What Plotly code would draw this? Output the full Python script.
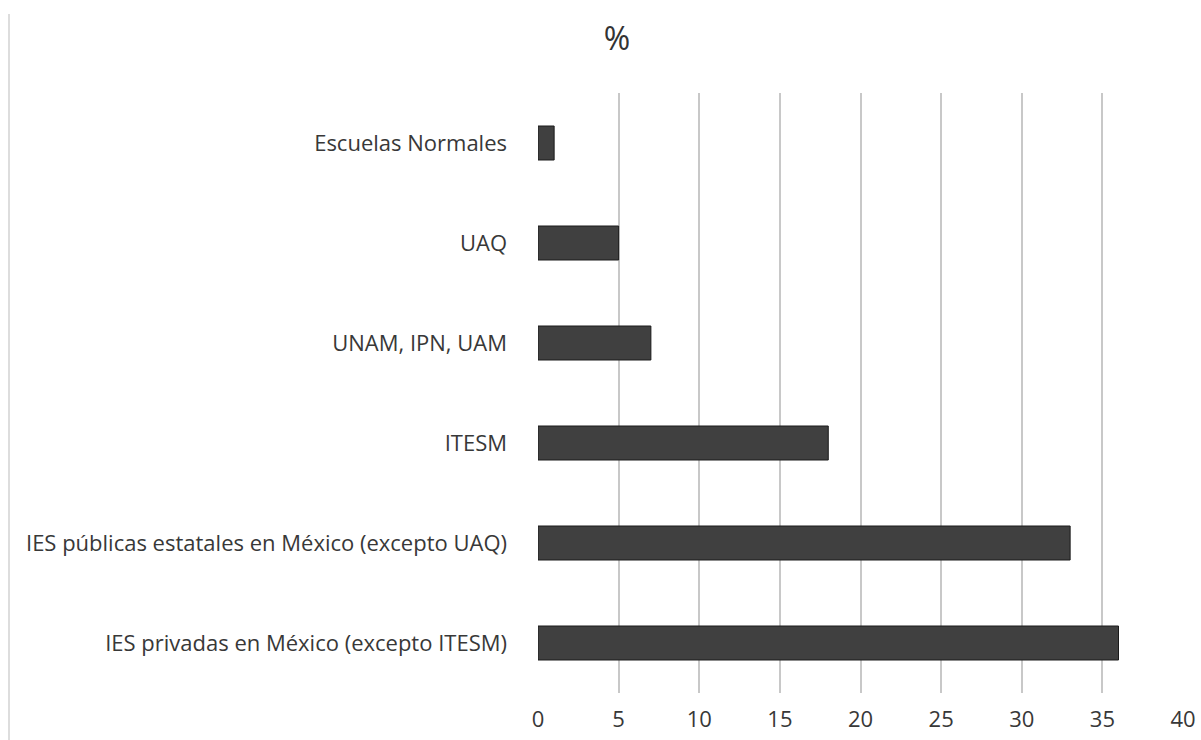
import plotly.graph_objects as go

categories = [
    "IES privadas en México (excepto ITESM)",
    "IES públicas estatales en México (excepto UAQ)",
    "ITESM",
    "UNAM, IPN, UAM",
    "UAQ",
    "Escuelas Normales",
]
values = [36, 33, 18, 7, 5, 1]
x_ticks = [0, 5, 10, 15, 20, 25, 30, 35, 40]

fig = go.Figure(
    go.Bar(
        y=categories,
        x=values,
        orientation="h",
        marker=dict(color="#404040", line=dict(color="#1a1a1a", width=1)),
    )
)

fig.update_layout(
    width=1201,
    height=740,
    margin=dict(l=538, r=18, t=93, b=47),
    paper_bgcolor="white",
    plot_bgcolor="white",
    bargap=0.66,
    showlegend=False,
    font=dict(family="Open Sans, sans-serif", size=22, color="#383838"),
    title=dict(
        text="%",
        x=(617 / 1201),
        xanchor="center",
        y=1 - 39 / 740,
        yanchor="middle",
        font=dict(size=32, color="#333333"),
    ),
    xaxis=dict(
        range=[0, 40],
        tickvals=x_ticks,
        showgrid=True,
        gridcolor="#c8c8c8",
        gridwidth=2,
        zeroline=False,
        showline=False,
        ticks="",
        ticklabelstandoff=11,
        tickfont=dict(size=22),
        automargin=False,
    ),
    yaxis=dict(
        showgrid=False,
        zeroline=False,
        showline=False,
        ticks="",
        ticklabelstandoff=30,
        tickfont=dict(size=22),
        automargin=False,
    ),
    shapes=[
        dict(
            type="line",
            xref="paper",
            yref="paper",
            x0=(9 - 538) / 645,
            x1=(9 - 538) / 645,
            y0=-47 / 600,
            y1=1 + 79 / 600,
            line=dict(color="#dddddd", width=2),
        )
    ],
)

fig.write_html("out.html")
